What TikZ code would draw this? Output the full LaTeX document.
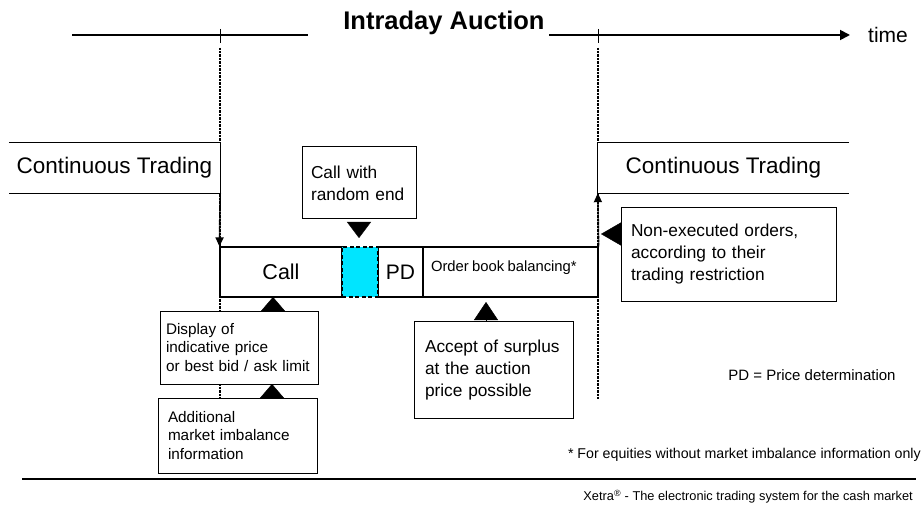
\documentclass[tikz,border=0pt]{standalone}
\usepackage{fontspec}
\setmainfont{Liberation Sans}
\usetikzlibrary{arrows.meta}
\definecolor{rndcyan}{RGB}{0,229,255}

\begin{document}
\begin{tikzpicture}[x=1pt,y=-1pt,
    box/.style={draw,fill=white,line width=1pt,align=left,inner ysep=0pt},
    bar/.style={draw,fill=white,line width=1.2pt,minimum height=50pt,inner sep=0pt},
    guide/.style={line width=1.6pt,dash pattern=on 1pt off 0.4pt},
    wedge/.style 2 args={-{Triangle[length=#1,width=#2]}},
    small/.style={font=\fontsize{15.3}{18.5}\selectfont},
    mid/.style={font=\fontsize{17.3}{22}\selectfont}]
  \useasboundingbox (0,0) rectangle (924,505);

  \node at (444,23) (title){\fontsize{25.5}{30}\selectfont\bfseries Intraday Auction};
  \node[anchor=west,inner sep=2pt] at (866,35) (time){\fontsize{21}{25}\selectfont time};
  \coordinate (l0) at (72,35);
  \coordinate (l1) at (308,35);
  \coordinate (r0) at (549,35);
  \draw[line width=1.8pt] (l0) -- (l1);
  \draw[line width=1.8pt,-{Triangle[length=10pt,width=10pt]},shorten >=16pt] (r0) -- (time.west);
  \draw[line width=1pt] (220,29) -- (220,43);
  \draw[line width=1pt] (598,29) -- (598,43);

  \draw[guide] (220,48) -- (220,400);
  \draw[guide] (598,48) -- (598,399);

  \node[minimum width=211pt,minimum height=50pt,inner sep=0pt,fill=white] at (114.5,168) (ctleft){\fontsize{22.5}{27}\selectfont Continuous Trading};
  \node[minimum width=251pt,minimum height=50pt,inner sep=0pt,fill=white] at (723.5,168) (ctright){\fontsize{22.5}{27}\selectfont Continuous Trading};
  \draw[line width=1pt] (ctleft.north west) -- (ctleft.north east) -- (ctleft.south east) -- (ctleft.south west);
  \draw[line width=1pt] (ctright.north east) -- (ctright.north west) -- (ctright.south west) -- (ctright.south east);

  \node[bar,minimum width=122pt] at (281,272) (call){\fontsize{21.5}{26}\selectfont Call};
  \node[bar,minimum width=45pt] at (400.5,272) (pd){\fontsize{21}{25}\selectfont PD};
  \node[bar,minimum width=175pt,text width=159pt,inner xsep=8pt,align=left] at (510.5,272) (obb){\fontsize{14.8}{18}\selectfont\smash{Order book balancing*}};
  \node[bar,minimum width=36pt,fill=rndcyan,dash pattern=on 4pt off 2.5pt,line width=1.5pt] at (360,272) (rnd){};

  \node[box,mid,text width=96pt,inner xsep=9pt,minimum height=72pt] at (359,183) (randend){Call with\\random end};
  \node[box,small,text width=146pt,inner xsep=6pt,minimum height=73pt] at (239,347.5) (display){Display of\\indicative price\\or best bid / ask limit};
  \node[box,small,text width=139pt,inner xsep=10pt,minimum height=75pt] at (237.5,435.5) (addinfo){Additional\\market imbalance\\information};
  \node[box,mid,text width=137pt,inner xsep=11pt,minimum height=97pt] at (493.5,370) (accept){Accept of surplus\\at the auction\\price possible};
  \node[box,mid,text width=195pt,inner xsep=10pt,minimum height=93pt] at (728.5,254.5) (nonexec){Non-executed orders,\\according to their\\trading restriction};

  \coordinate (w1) at (359,238);
  \coordinate (w2) at (273,297);
  \coordinate (w3) at (272,384);
  \coordinate (w4) at (486,302);
  \coordinate (w5) at (601,234);
  \draw[wedge={16pt}{24pt},shorten <=3pt] (randend.south) -- (w1);
  \draw[wedge={14pt}{24pt}] (display.north -| w2) -- (w2);
  \draw[wedge={14pt}{24pt}] (addinfo.north -| w3) -- (w3);
  \draw[wedge={18pt}{24pt},shorten <=1pt] (accept.north -| w4) -- (w4);
  \draw[wedge={20pt}{23pt}] (nonexec.west |- w5) -- (w5);

  \draw[guide,-{Triangle[length=9pt,width=8pt]}] (ctleft.south east) -- (call.north west);
  \draw[guide,-{Triangle[length=9pt,width=8pt]}] (obb.north east) -- (ctright.south west);

  \node[font=\fontsize{15}{18}\selectfont] at (812,375) (pdnote){PD = Price determination};
  \node[anchor=east,inner sep=0pt,font=\fontsize{14.2}{17}\selectfont] at (921,455) (starnote){* For equities without market imbalance information only};
  \coordinate (b0) at (22,479);
  \coordinate (b1) at (916,479);
  \draw[line width=1.2pt] (b0) -- (b1);
  \node[anchor=east,inner sep=0pt,font=\fontsize{12.8}{15}\selectfont] at (913,497) (xetra){Xetra\textsuperscript{®} - The electronic trading system for the cash market};
\end{tikzpicture}
\end{document}
